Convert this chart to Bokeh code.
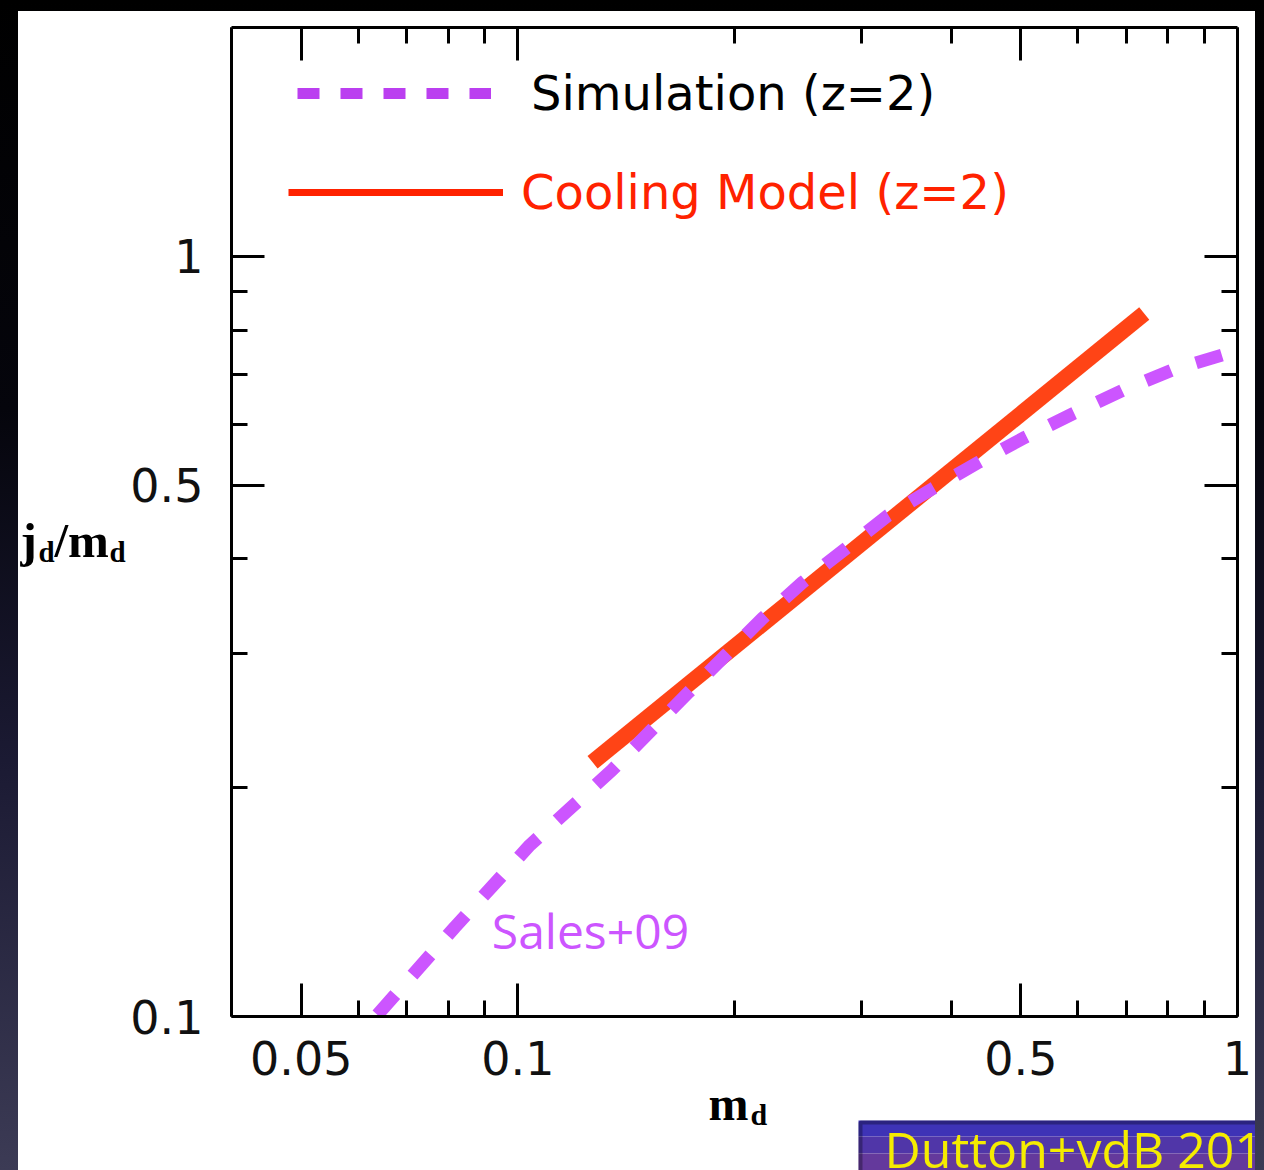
from bokeh.plotting import figure
from bokeh.models import (Range1d, LogAxis, FixedTicker, Label, Legend,
                          LegendItem, BoxAnnotation)
from bokeh.layouts import column, row
from bokeh.embed import file_html
from bokeh.resources import INLINE

# Disc specific angular momentum vs disc mass fraction, z = 2
SIM_X = [0.0638, 0.0817, 0.1039, 0.1352, 0.172, 0.2187, 0.2486, 0.3266,
         0.3773, 0.437, 0.5067, 0.591, 0.6916, 0.809, 1.0]
SIM_Y = [0.1005, 0.131, 0.168, 0.211, 0.266, 0.334, 0.3724, 0.456,
         0.495, 0.536, 0.578, 0.621, 0.666, 0.708, 0.752]

COOL_X = [0.127, 0.742]
COOL_Y = [0.216, 0.841]

X_MAJOR = [0.05, 0.1, 0.5, 1.0]
X_MAJOR_LABELS = ["0.05", "0.1", "0.5", "1"]
X_MINOR = [0.04, 0.06, 0.07, 0.08, 0.09, 0.2, 0.3, 0.4, 0.6, 0.7, 0.8, 0.9]

Y_MAJOR = [0.1, 0.5, 1.0]
Y_MAJOR_LABELS = ["0.1", "0.5", "1"]
Y_MINOR = [0.2, 0.3, 0.4, 0.6, 0.7, 0.8, 0.9]

SIM_LABEL = "Simulation (z=2)"
COOL_LABEL = "Cooling Model (z=2)"
SIM_NOTE = "Sales+09"
CREDIT = "Dutton+vdB 2012"

TICK_FONT = "DejaVu Sans"
SERIF = "Liberation Serif"
HAND = "Open Sans"

TOP_H = 1085          # height of the row holding the plot
BOTTOM_H = 74         # strip under it with the x title and credit box
LEFT_W = 109          # strip left of the y tick labels, holds the y title


def blank_canvas(width, height):
    f = figure(width=width, height=height, x_range=Range1d(0, 1),
               y_range=Range1d(0, 1), min_border=0, title=None,
               x_axis_location=None, y_axis_location=None,
               output_backend="svg", toolbar_location=None,
               outline_line_color=None,
               background_fill_color="white", border_fill_color="white")
    f.grid.visible = False
    return f


def serif_text(fig, text, x, baseline, size):
    # anchor sits about a third of the font size above the baseline
    fig.add_layout(Label(x=x, y=baseline + 0.36 * size,
                         x_units="screen", y_units="screen",
                         text=text, text_font=SERIF, text_font_style="bold",
                         text_font_size=f"{size}px", text_color="black",
                         text_baseline="alphabetic"))


# ---- main log-log panel ----
p = figure(x_axis_type="log", y_axis_type="log",
           x_range=Range1d(0.04, 1.0), y_range=Range1d(0.1, 2.0),
           frame_width=1006, frame_height=989,
           min_border_left=102, min_border_right=18,
           min_border_top=16, min_border_bottom=TOP_H - 16 - 989,
           title=None, output_backend="svg", toolbar_location=None,
           background_fill_color="white", border_fill_color="white",
           outline_line_color=None)
p.grid.visible = False


def style_axis(ax, major, minor, labels, show_labels):
    ax.ticker = FixedTicker(ticks=major, minor_ticks=minor)
    ax.axis_line_color = "black"
    ax.axis_line_width = 3
    ax.major_tick_line_color = "black"
    ax.major_tick_line_width = 3
    ax.minor_tick_line_color = "black"
    ax.minor_tick_line_width = 3
    ax.major_tick_in = 33
    ax.major_tick_out = 0
    ax.minor_tick_in = 16
    ax.minor_tick_out = 0
    if show_labels:
        ax.major_label_overrides = {v: s for v, s in zip(major, labels)}
        ax.major_label_text_font = TICK_FONT
        ax.major_label_text_font_size = "46px"
        ax.major_label_text_color = "#111111"
    else:
        ax.major_label_overrides = {v: "" for v in major}
        ax.major_label_text_font_size = "0px"
        ax.major_label_standoff = 0


style_axis(p.xaxis[0], X_MAJOR, X_MINOR, X_MAJOR_LABELS, True)
p.xaxis[0].major_label_standoff = 24
style_axis(p.yaxis[0], Y_MAJOR, Y_MINOR, Y_MAJOR_LABELS, True)
p.yaxis[0].major_label_standoff = 28

top_axis = LogAxis()
style_axis(top_axis, X_MAJOR, X_MINOR, X_MAJOR_LABELS, False)
p.add_layout(top_axis, "above")
right_axis = LogAxis()
style_axis(right_axis, Y_MAJOR, Y_MINOR, Y_MAJOR_LABELS, False)
p.add_layout(right_axis, "right")

# model curve underneath, simulation dashes on top
p.line(COOL_X, COOL_Y, line_color="#ff4416", line_width=16, line_cap="butt")
p.line(SIM_X, SIM_Y, line_color="#cc55ff", line_width=13,
       line_dash="27 26", line_cap="butt")

# hidden copies that only lend their styling to the key swatches
sim_key = p.line(SIM_X, SIM_Y, line_color="#bb3ff0", line_width=11,
                 line_dash="22 21", line_cap="butt", visible=False)
cool_key = p.line(COOL_X, COOL_Y, line_color="#ff2200", line_width=7,
                  visible=False)


def make_legend(label, renderer, loc, glyph_w, standoff, color):
    return Legend(items=[LegendItem(label=label, renderers=[renderer])],
                  location=loc, glyph_width=glyph_w, glyph_height=56,
                  label_height=56, label_standoff=standoff,
                  label_text_font="DejaVu Sans", label_text_font_size="48px",
                  label_text_color=color, padding=0, margin=0, spacing=0,
                  border_line_color=None, background_fill_alpha=0,
                  inactive_fill_alpha=0)


p.add_layout(make_legend(SIM_LABEL, sim_key, (66, 895), 194, 40, "black"))
p.add_layout(make_legend(COOL_LABEL, cool_key, (57, 796), 215, 18, "#ff2200"))

p.add_layout(Label(x=0.092, y=0.1296, text=SIM_NOTE, text_font=HAND,
                   text_font_size="48px", text_color="#cc55ff",
                   text_baseline="alphabetic"))

# ---- y title, left of the tick labels (frame shares the plot's rows) ----
left = blank_canvas(LEFT_W, TOP_H)
serif_text(left, "j", 2, 458, 49)
serif_text(left, "d", 20, 454, 29)
serif_text(left, "/m", 36, 458, 49)
serif_text(left, "d", 91, 454, 29)

# ---- x title and credit box under the plot ----
bottom = blank_canvas(1237, BOTTOM_H)
serif_text(bottom, "m", 690, 50, 48)
serif_text(bottom, "d", 732, 45, 30)

for lo, hi, shade in [(34, 50, "#3e33b6"), (17, 34, "#5036a8"),
                      (-20, 17, "#64399c")]:
    bottom.add_layout(BoxAnnotation(left=840, right=1300, bottom=lo, top=hi,
                                    left_units="screen", right_units="screen",
                                    bottom_units="screen", top_units="screen",
                                    fill_color=shade, fill_alpha=1,
                                    line_alpha=0))
bottom.add_layout(BoxAnnotation(left=842, right=1300, bottom=-20, top=48,
                                left_units="screen", right_units="screen",
                                bottom_units="screen", top_units="screen",
                                fill_alpha=0, line_color="black",
                                line_width=4))
bottom.add_layout(Label(x=866, y=2 + 0.39 * 50, x_units="screen",
                        y_units="screen", text=CREDIT, text_font=HAND,
                        text_font_size="50px", text_color="#f5ec00",
                        text_baseline="alphabetic"))

sheet = column(row(left, p), bottom, margin=(11, 9, 0, 18),
               styles={"background-color": "white"})
page = column(sheet,
              styles={"background": "linear-gradient(180deg, #000000 0%, "
                                    "#05050c 35%, #1b1a33 65%, #3c3b55 100%)"})

open("out.html", "w").write(file_html(page, INLINE))
